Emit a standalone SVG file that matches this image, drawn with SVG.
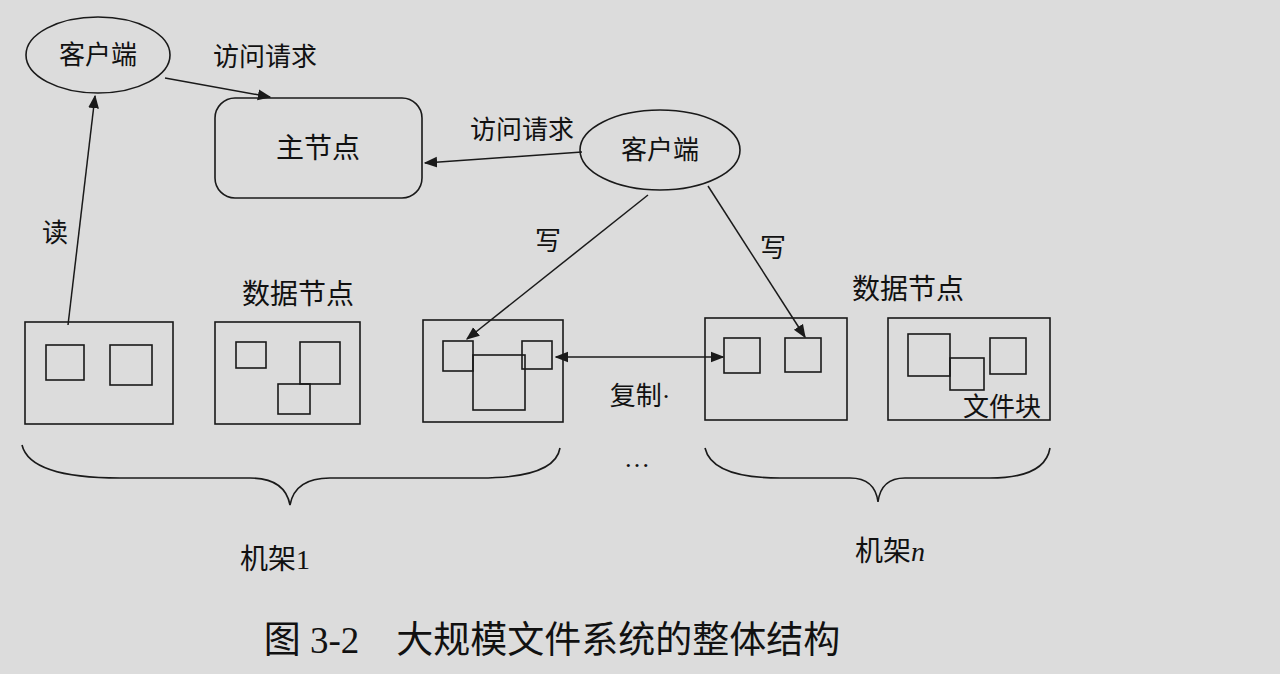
<svg xmlns="http://www.w3.org/2000/svg" width="1280" height="674" viewBox="0 0 1280 674">
<defs>
<marker id="ah" viewBox="0 0 10 10" refX="9" refY="5" markerWidth="9" markerHeight="9" orient="auto-start-reverse"><path d="M0,1 L10,5 L0,9 z" fill="#1a1a1a"/></marker>
</defs>
<style>
.s{fill:none;stroke:#1a1a1a;stroke-width:1.6}
.t{font-family:"Liberation Serif","Noto Sans CJK SC",serif;fill:#111}
.c{stroke:#1a1a1a;stroke-width:1.5;fill:none;marker-end:url(#ah)}
</style>
<rect width="1280" height="674" fill="#dcdcdc"/>
<g id="client1"><ellipse class="s" cx="98" cy="55" rx="72" ry="38"/><text class="t" x="98" y="64" font-size="26" text-anchor="middle">客户端</text></g>
<g id="master"><rect class="s" x="215" y="98" width="207" height="100" rx="20"/><text class="t" x="318" y="158" font-size="28" text-anchor="middle">主节点</text></g>
<g id="client2"><ellipse class="s" cx="660" cy="150" rx="80" ry="40"/><text class="t" x="660" y="159" font-size="26" text-anchor="middle">客户端</text></g>
<g id="labels">
<text class="t" x="265" y="66" font-size="26" text-anchor="middle">访问请求</text>
<text class="t" x="522" y="139" font-size="26" text-anchor="middle">访问请求</text>
<text class="t" x="55" y="242" font-size="26" text-anchor="middle">读</text>
<text class="t" x="548" y="250" font-size="26" text-anchor="middle">写</text>
<text class="t" x="773" y="257" font-size="26" text-anchor="middle">写</text>
<text class="t" x="298" y="304" font-size="28" text-anchor="middle">数据节点</text>
<text class="t" x="908" y="299" font-size="28" text-anchor="middle">数据节点</text>
<text class="t" x="640" y="405" font-size="26" text-anchor="middle">复制·</text>
<text class="t" x="637" y="467" font-size="26" text-anchor="middle">…</text>
<text class="t" x="275" y="569" font-size="28" text-anchor="middle">机架1</text>
<text class="t" x="890" y="561" font-size="28" text-anchor="middle">机架<tspan font-style="italic">n</tspan></text>
<text class="t" x="552" y="653" font-size="37" text-anchor="middle">图 3-2　大规模文件系统的整体结构</text>
</g>
<g id="node1"><rect class="s" x="25" y="322" width="148" height="102"/><rect class="s" x="46" y="345" width="38" height="35"/><rect class="s" x="110" y="345" width="42" height="40"/></g>
<g id="node2"><rect class="s" x="215" y="322" width="145" height="102"/><rect class="s" x="236" y="342" width="30" height="26"/><rect class="s" x="300" y="342" width="40" height="42"/><rect class="s" x="278" y="384" width="32" height="30"/></g>
<g id="node3"><rect class="s" x="423" y="320" width="140" height="102"/><rect class="s" x="473" y="355" width="52" height="55"/><rect class="s" x="443" y="341" width="30" height="30"/><rect class="s" x="522" y="341" width="30" height="28"/></g>
<g id="node4"><rect class="s" x="705" y="318" width="142" height="102"/><rect class="s" x="724" y="338" width="36" height="35"/><rect class="s" x="785" y="338" width="36" height="34"/></g>
<g id="node5"><rect class="s" x="888" y="318" width="162" height="102"/><rect class="s" x="908" y="334" width="42" height="42"/><rect class="s" x="950" y="358" width="34" height="32"/><rect class="s" x="990" y="338" width="36" height="36"/><text class="t" x="1002" y="416" font-size="26" text-anchor="middle">文件块</text></g>
<g id="connectors">
<line class="c" x1="165" y1="78" x2="270" y2="97"/>
<line class="c" x1="582" y1="152" x2="425" y2="163"/>
<line class="c" x1="68" y1="325" x2="95" y2="96"/>
<line class="c" x1="648" y1="195" x2="467" y2="339"/>
<line class="c" x1="708" y1="186" x2="805" y2="337"/>
<line class="c" x1="556" y1="357" x2="723" y2="357" marker-start="url(#ah)"/>
<path class="s" d="M22,445 Q30,478 120,478 L250,478 Q285,478 290,505 Q295,478 330,478 L480,478 Q555,478 560,448"/>
<path class="s" d="M705,448 Q712,478 780,478 L850,478 Q875,478 878,502 Q881,478 905,478 L990,478 Q1045,478 1050,448"/>
</g>
</svg>
